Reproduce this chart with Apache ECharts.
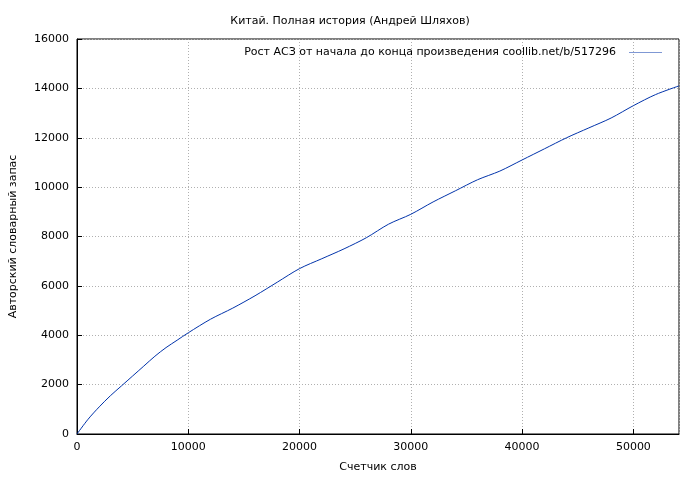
<!DOCTYPE html>
<html><head><meta charset="utf-8">
<script src="https://cdn.jsdelivr.net/npm/echarts@6/dist/echarts.min.js"></script>
<style>html,body{margin:0;padding:0;background:#fff}#c{width:700px;height:480px}</style>
</head><body><div id="c"></div>
<script>
const xWords = [0,1000,2000,3000,4000,5000,6000,7000,8000,9000,10000,12000,14000,16000,18000,20000,22000,24000,26000,28000,30000,32000,34000,36000,38000,40000,42000,44000,46000,48000,50000,52000,54100];
const yVocab = [0,600,1100,1550,1950,2350,2750,3150,3500,3800,4100,4650,5100,5600,6150,6700,7100,7500,7950,8500,8900,9400,9850,10300,10650,11100,11550,12000,12400,12800,13300,13750,14100];
const yTicks = [0,2000,4000,6000,8000,10000,12000,14000,16000];
const data = xWords.map((x,i)=>[x,yVocab[i]]);
const chart = echarts.init(document.getElementById('c'));
const f = 'DejaVu Sans';
chart.setOption({
  animation:false,
  textStyle:{fontFamily:f},
  title:{text:'Китай. Полная история (Андрей Шляхов)',left:'center',top:11,textStyle:{fontFamily:f,fontSize:11,fontWeight:'normal',color:'#000'}},
  legend:{top:42,right:33,icon:'path://M0,0H60V1H0Z',itemWidth:33,itemHeight:1,itemGap:12,align:'right',
    textStyle:{fontFamily:f,fontSize:11,color:'#000',padding:[0,8,0,0]},data:['Рост АСЗ от начала до конца произведения coollib.net/b/517296']},
  grid:{left:75,right:21,top:39,bottom:46,show:true,borderColor:'#000',borderWidth:1},
  xAxis:{type:'value',min:0,max:54100,interval:10000,name:'Счетчик слов',nameLocation:'middle',nameGap:28,
    nameTextStyle:{fontFamily:f,fontSize:11,color:'#000'},
    axisLine:{lineStyle:{color:'#000'}},axisTick:{inside:true,lineStyle:{color:'#000'}},
    axisLabel:{fontFamily:f,fontSize:11,color:'#000',showMaxLabel:false,formatter:v=>String(v)},
    splitLine:{lineStyle:{color:'#b0b0b0',type:[1,2]}}},
  yAxis:{type:'value',min:0,max:16000,interval:2000,name:'Авторский словарный запас',nameLocation:'middle',nameGap:58,
    nameTextStyle:{fontFamily:f,fontSize:11,color:'#000'},
    axisLine:{show:true,lineStyle:{color:'#000'}},axisTick:{show:true,inside:true,lineStyle:{color:'#000'}},
    axisLabel:{fontFamily:f,fontSize:11,color:'#000',formatter:v=>String(v)},
    splitLine:{lineStyle:{color:'#b0b0b0',type:[1,2]}}},
  series:[{name:'Рост АСЗ от начала до конца произведения coollib.net/b/517296',type:'line',data:data,showSymbol:false,smooth:0.3,
    lineStyle:{color:'#0033aa',width:1},itemStyle:{color:'#0033aa'}}]
});
</script></body></html>
